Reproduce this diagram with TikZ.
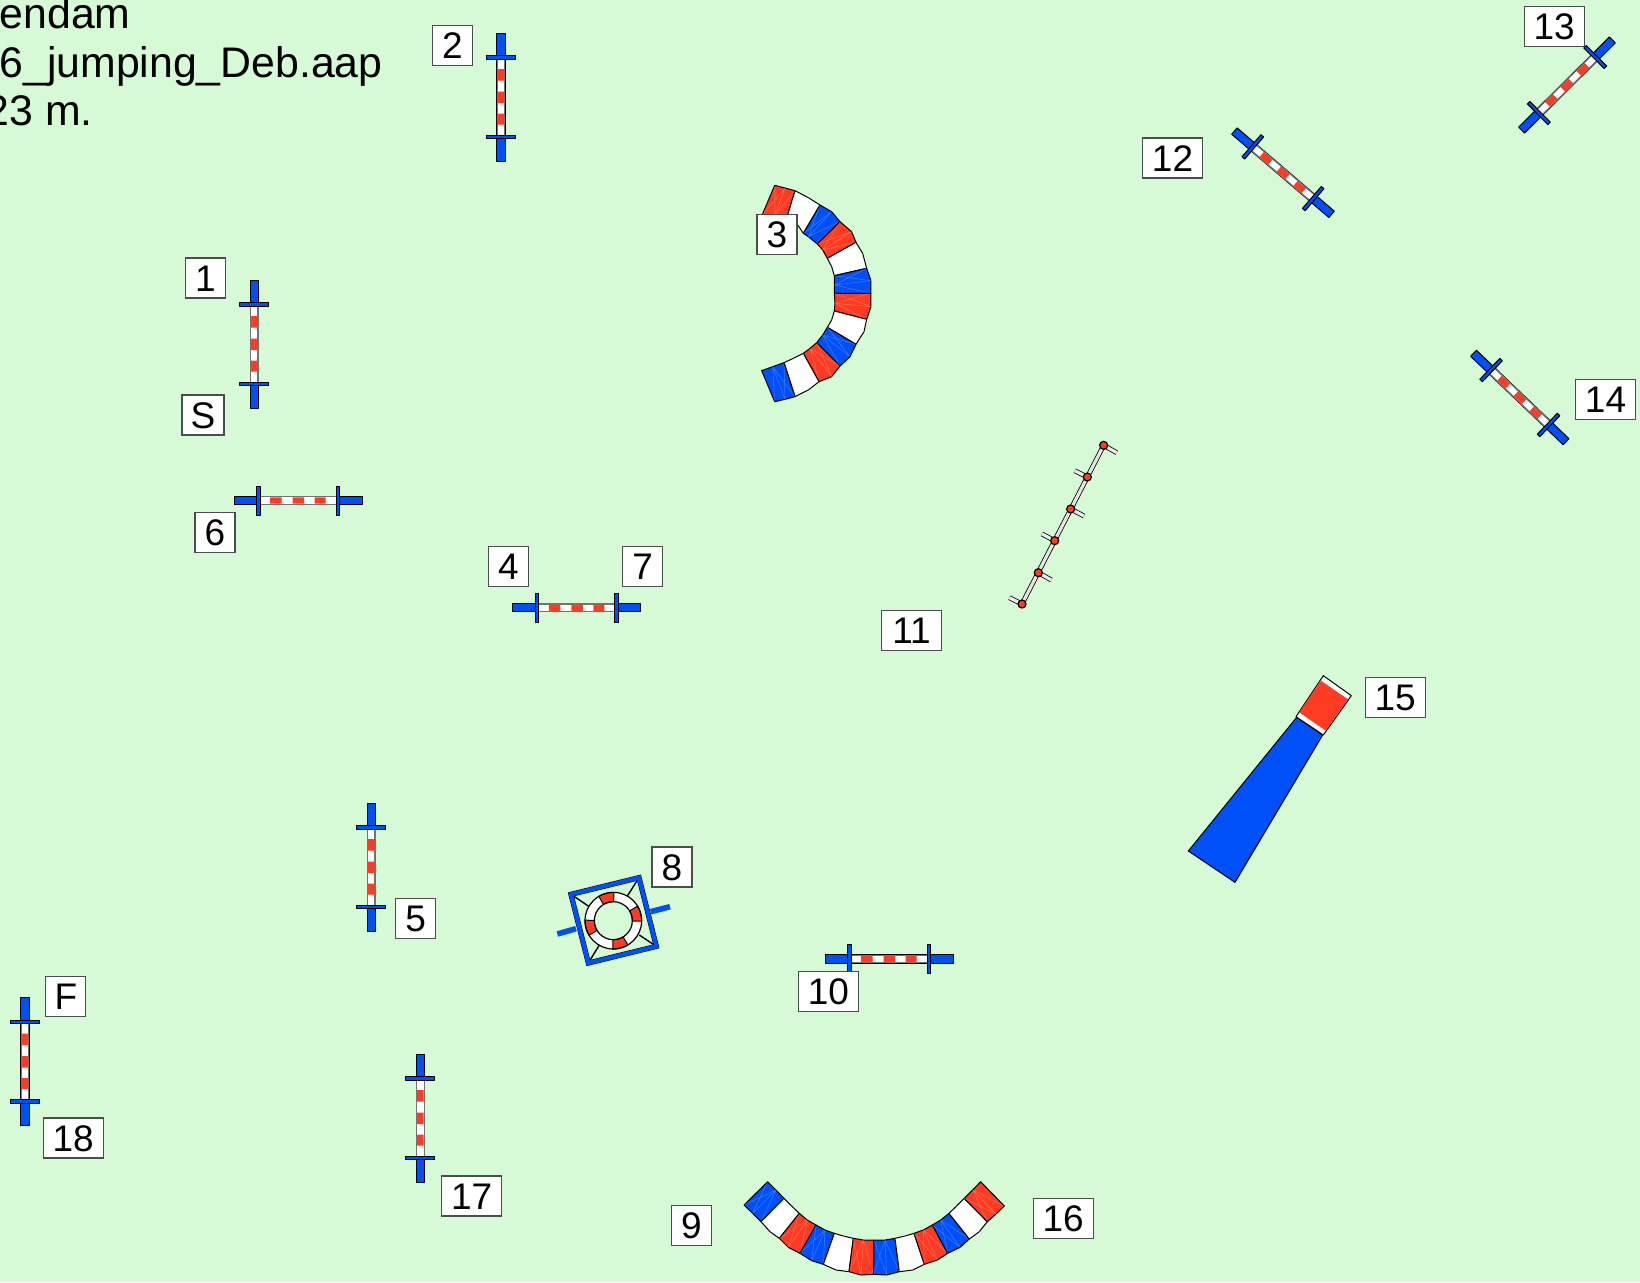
\documentclass[tikz,border=0pt]{standalone}
\usepackage{fontspec}
\setmainfont{Liberation Sans}
\definecolor{bgc}{RGB}{214,250,214}
\definecolor{blu}{RGB}{0,80,250}
\definecolor{rdd}{RGB}{255,60,35}
\tikzset{
  lab/.style={draw=black!70,fill=white,line width=.55pt,inner sep=0pt,minimum height=20pt,font=\fontsize{18.5}{20}\selectfont,text depth=0pt,text height=13pt},
  labone/.style={lab,minimum width=20pt},
  labtwo/.style={lab,minimum width=30pt},
  edge/.style={draw=black,line width=.5pt,line join=round},
  hdr/.style={anchor=base east,inner sep=0pt,font=\fontsize{21.4}{24}\selectfont}
}
\newcommand{\jumpat}[3]{%
\begin{scope}[shift={(#1,#2)},rotate=#3]
  \filldraw[edge,fill=blu] (-4.2,-64) rectangle (4.2,64);
  \filldraw[draw=black!55,fill=white,line width=.6pt] (-3.7,-39.7) rectangle (3.7,39.7);
  \fill[rdd] (-3.2,-28) rectangle (3.2,-16.5) (-3.2,-5.5) rectangle (3.2,6) (-3.2,16.5) rectangle (3.2,27.5);
  \filldraw[edge,fill=blu] (-14.5,-41.5) rectangle (14.5,-38);
  \filldraw[edge,fill=blu] (-14.5,38) rectangle (14.5,41.5);
\end{scope}}
% one tunnel segment: colour, three outer points, three inner points
\newcommand{\seg}[7]{%
  \filldraw[edge,fill=#1] (#2)--(#3)--(#4)--(#5)--(#6)--(#7)--cycle;
  \draw[white,opacity=.22,line width=.3pt] (#7)--(#3)--(#6)--(#4) (#2)--(#6);}
\begin{document}
\begin{tikzpicture}[x=.5pt,y=-.5pt]
\useasboundingbox (0,0) rectangle (1640,1282);
\clip (0,0) rectangle (1640,1282);
\fill[bgc] (0,0) rectangle (1640,1282);
% header
\node[hdr] (hdrone) at (131,28) {kendam};
\node[hdr] (hdrtwo) at (383,77) {6\_jumping\_Deb.aap};
\node[hdr] (hdrthree) at (93,125) {23 m.};
% jumps
\jumpat{254.3}{344}{0}
\jumpat{501}{97.2}{0}
\jumpat{371.3}{867}{0}
\jumpat{420.4}{1118}{0}
\jumpat{25}{1061.6}{0}
\jumpat{298}{500.5}{90}
\jumpat{576.8}{607.7}{90}
\jumpat{889}{959}{90}
\jumpat{1283}{172.7}{49.4}
\jumpat{1567}{85}{-45.2}
\jumpat{1519.8}{397.5}{46.3}
% tunnel 3
\begin{scope}[shift={(740,170)},x=.5pt/3,y=-.5pt/3]
\seg{rdd}{104,46}{135,54}{165,62}{143,135}{105,135}{66,136}
\seg{white}{165,62}{205,83}{240,105}{190,190}{170,160}{143,135}
\seg{blu}{240,105}{275,125}{300,155}{232,222}{205,200}{190,190}
\seg{rdd}{300,155}{335,185}{348,217}{262,265}{248,240}{232,222}
\seg{white}{348,217}{368,250}{380,295}{283,317}{275,290}{262,265}
\seg{blu}{380,295}{393,332}{393,370}{283,370}{283,345}{283,317}
\seg{rdd}{393,370}{393,410}{380,448}{283,423}{285,400}{283,370}
\seg{white}{380,448}{372,485}{348,523}{262,472}{275,450}{283,423}
\seg{blu}{348,523}{330,560}{300,588}{230,518}{248,495}{262,472}
\seg{rdd}{300,588}{275,620}{237,635}{190,550}{210,535}{230,518}
\seg{white}{237,635}{205,660}{165,680}{132,578}{160,565}{190,550}
\seg{blu}{165,680}{135,688}{104,695}{65,602}{98,590}{132,578}
\end{scope}
% tunnel 16
\begin{scope}[shift={(730,1170)},x=.5pt/3,y=-.5pt/3]
\seg{blu}{42,105}{68,130}{93,155}{162,85}{138,60}{113,35}
\seg{white}{93,155}{120,185}{148,205}{208,130}{185,108}{162,85}
\seg{rdd}{148,205}{175,232}{210,250}{258,165}{232,150}{208,130}
\seg{blu}{210,250}{245,272}{280,283}{313,190}{285,180}{258,165}
\seg{white}{280,283}{318,300}{357,305}{370,205}{340,198}{313,190}
\seg{rdd}{357,305}{393,315}{431,313}{432,210}{400,210}{370,205}
\seg{blu}{431,313}{470,315}{508,305}{495,205}{465,210}{432,210}
\seg{white}{508,305}{548,300}{583,283}{552,190}{525,198}{495,205}
\seg{rdd}{583,283}{622,270}{653,250}{607,165}{580,180}{552,190}
\seg{blu}{653,250}{690,232}{718,207}{657,130}{632,150}{607,165}
\seg{white}{718,207}{748,185}{772,155}{703,85}{680,108}{657,130}
\seg{rdd}{772,155}{798,132}{823,108}{752,35}{728,60}{703,85}
\end{scope}
% tyre 8
\begin{scope}[shift={(540,860)},x=.5pt/3,y=-.5pt/3]
\draw[blu,line width=2.8pt] (52,222)--(108,206) (332,155)--(390,140);
\draw[black,line width=.7pt] (93,103)--(148,140) (297,53)--(262,108) (349,259)--(298,225) (145,309)--(178,255);
\draw[black,line width=2.6pt,line join=miter] (93,103)--(297,53)--(349,259)--(145,309)--cycle;
\draw[blu,line width=2.1pt,line join=miter] (93,103)--(297,53)--(349,259)--(145,309)--cycle;
\begin{scope}[shift={(220,182)}]
\fill[white,even odd rule] (0,0) circle[radius=85] (0,0) circle[radius=57];
\foreach \a in {105,15,-75,195}{
  \filldraw[edge,fill=rdd] (-\a-16:85)--(-\a-8:85)--(-\a:85)--(-\a+8:85)--(-\a+16:85)--(-\a+16:57)--(-\a+8:57)--(-\a:57)--(-\a-8:57)--(-\a-16:57)--cycle;
}
\draw[black,line width=.6pt] (0,0) circle[radius=85] (0,0) circle[radius=57];
\end{scope}
\end{scope}
% weave 11
\begin{scope}[shift={(1000,430)},x=.5pt/3,y=-.5pt/3]
\foreach \ax/\ay/\bx/\by in {311/46/350/68,262/141/224/122,212/237/252/258,164/332/126/312,115/428/154/450,66/522/28/503}{
  \draw[black,line width=2.4pt] (\ax,\ay)--(\bx,\by);
  \draw[white!92!black,line width=1.6pt] (\ax,\ay)--(\bx,\by);
}
\draw[black,line width=2.4pt] (311,46)--(66,522);
\draw[white!90!black,line width=1.6pt] (311,46)--(66,522);
\foreach \ax/\ay in {311/46,262/141,212/237,164/332,115/428,66/522}{
  \filldraw[draw=black,line width=.6pt,fill=rdd] (\ax,\ay) circle[radius=12];
}
\end{scope}
% chute 15
\begin{scope}[shift={(1180,660)},x=.5pt/3,y=-.5pt/3]
\filldraw[edge,fill=blu] (350,172)--(428,225)--(165,667)--(25,573)--cycle;
\filldraw[edge,fill=white] (430,47)--(514,107)--(430,225)--(348,170)--cycle;
\fill[rdd] (423,62)--(504,118)--(437,212)--(358,157)--cycle;
\end{scope}
% labels
\node[labone,minimum width=21pt] (nS) at (203,415) {S};
\node[labone] (none) at (205.5,278) {1};
\node[labone] (ntwo) at (452.4,45.5) {2};
\node[labone] (nthree) at (777,234.3) {3};
\node[labone] (nfour) at (508.3,566.3) {4};
\node[labone] (nfive) at (415.7,918.3) {5};
\node[labone] (nsix) at (215,532.4) {6};
\node[labone] (nseven) at (642.7,566.3) {7};
\node[labone] (neight) at (672,867) {8};
\node[labone] (nnine) at (691.3,1225.8) {9};
\node[labtwo] (nten) at (828.4,991.5) {10};
\node[labtwo] (neleven) at (911.5,630.2) {11};
\node[labtwo] (ntwelve) at (1172.5,158) {12};
\node[labtwo] (nthirteen) at (1554.2,26.1) {13};
\node[labtwo] (nfourteen) at (1605.5,399.5) {14};
\node[labtwo] (nfifteen) at (1395.2,697.6) {15};
\node[labtwo] (nsixteen) at (1063.1,1218.5) {16};
\node[labtwo] (nseventeen) at (471.7,1196) {17};
\node[labtwo] (neighteen) at (73.2,1138) {18};
\node[labone] (nF) at (65.9,996.7) {F};
\end{tikzpicture}
\end{document}
